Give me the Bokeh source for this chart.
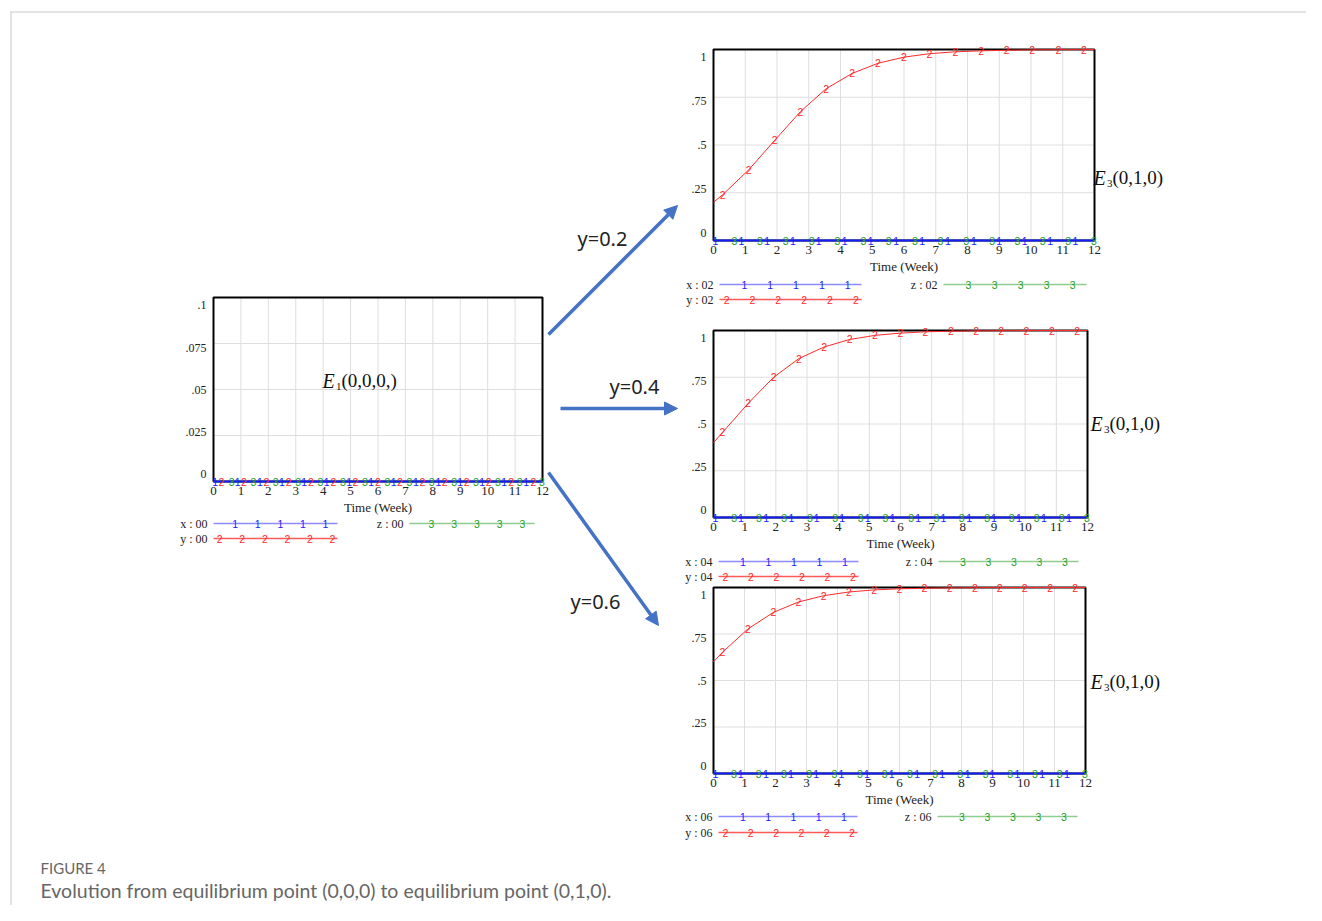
from bokeh.plotting import figure
from bokeh.models import Range1d, ColumnDataSource, Arrow, NormalHead
from bokeh.core.properties import value
from bokeh.embed import file_html
from bokeh.resources import INLINE

# ---------------- data ----------------
weeks = [0, 1, 2, 3, 4, 5, 6, 7, 8, 9, 10, 11, 12]
week_labels = [str(w) for w in weeks]
left_yticks = [0.0, 0.025, 0.05, 0.075, 0.1]
left_ylabels = ["0", ".025", ".05", ".075", ".1"]
right_yticks = [0.0, 0.25, 0.5, 0.75, 1.0]
right_ylabels = ["0", ".25", ".5", ".75", "1"]

# marker times (week) of the three series
t_x = [0.06, 0.88, 1.69, 2.50, 3.31, 4.13, 4.95, 5.75, 6.57, 7.38, 8.20, 9.00, 9.80, 10.60, 11.40]
t_y = [0.29, 1.11, 1.93, 2.74, 3.55, 4.37, 5.18, 6.00, 6.80, 7.62, 8.43, 9.23, 10.04, 10.86, 11.67]
t_z = [0.66, 1.46, 2.27, 3.09, 3.90, 4.72, 5.52, 6.34, 7.15, 7.96, 8.78, 9.57, 10.37, 11.17, 11.98]

# series values: start (week 0), values at the marker times, end (week 12)
x_00 = [0.0] * 17
z_00 = [0.0] * 17
y_00 = [0.0] * 17
x_02 = [0.0] * 17
z_02 = [0.0] * 17
y_02 = [0.20, 0.24, 0.37, 0.525, 0.675, 0.795, 0.875, 0.928, 0.96, 0.978, 0.988,
        0.993, 0.996, 0.998, 0.999, 0.9995, 1.0]
x_04 = [0.0] * 17
z_04 = [0.0] * 17
y_04 = [0.40, 0.455, 0.61, 0.75, 0.85, 0.912, 0.952, 0.974, 0.986, 0.993, 0.996,
        0.998, 0.999, 0.9995, 1.0, 1.0, 1.0]
x_06 = [0.0] * 17
z_06 = [0.0] * 17
y_06 = [0.60, 0.652, 0.777, 0.866, 0.922, 0.956, 0.976, 0.987, 0.993, 0.996, 0.998,
        0.999, 0.9995, 1.0, 1.0, 1.0, 1.0]

scenario_labels = ["y=0.2", "y=0.4", "y=0.6"]
caption_head = "FIGURE 4"
caption_text = "Evolution from equilibrium point (0,0,0) to equilibrium point (0,1,0)."

# ---------------- canvas ----------------
W, H = 1306, 905
SX0, SY0 = 0, 0  # page offset of canvas

p = figure(width=W, height=H, output_backend="svg", toolbar_location=None,
           x_axis_type=None, y_axis_type=None, min_border=0,
           x_range=Range1d(SX0, SX0 + W), y_range=Range1d(SY0 + H, SY0))
p.outline_line_color = None
p.background_fill_color = "white"
p.border_fill_color = "white"

SERIF = value("Liberation Serif")
SANS = value("Liberation Sans")

BLUE, RED, GREEN = "#1a1aff", "#ff2a2a", "#22a022"


def add_ranges(name, X0, X1, Ytop, Ybot, ymax):
    sx = 12.0 / (X1 - X0)
    p.extra_x_ranges[name] = Range1d((SX0 - X0) * sx, (SX0 + W - X0) * sx)
    sy = ymax / (Ybot - Ytop)
    p.extra_y_ranges[name] = Range1d((Ybot - (SY0 + H)) * sy, (Ybot - SY0) * sy)


def panel(name, frame, ymax, yticks, ylabels, xs, ys, zs, leg, tag):
    X0, X1, Ytop, Ybot = frame
    add_ranges(name, X0, X1, Ytop, Ybot, ymax)
    kw = dict(x_range_name=name, y_range_name=name)
    # grid
    p.segment(x0=weeks[1:-1], y0=[0] * 11, x1=weeks[1:-1], y1=[ymax] * 11,
              line_color="#dedede", line_width=1, **kw)
    p.segment(x0=[0] * 3, y0=yticks[1:-1], x1=[12] * 3, y1=yticks[1:-1],
              line_color="#dedede", line_width=1, **kw)
    # frame
    p.quad(left=[0], right=[12], bottom=[0], top=[ymax], fill_color=None,
           line_color="black", line_width=2, **kw)
    # tick labels
    p.text(x=weeks, y=[0] * 13, text=week_labels, y_offset=5, text_align="center",
           text_baseline="top", text_font=SERIF, text_font_size="13px",
           text_color="#222", **kw)
    src = ColumnDataSource(dict(y=yticks, t=ylabels, off=[-8, -4, 0, 4, 7]))
    p.text(x=0, y="y", text="t", y_offset="off", x_offset=-7, source=src,
           text_align="right", text_baseline="middle", text_font=SERIF,
           text_font_size="12px", text_color="#222", **kw)
    p.text(x=[6], y=[0], text=["Time (Week)"], y_offset=18, text_align="center",
           text_baseline="top", text_font=SERIF, text_font_size="13px",
           text_color="#222", **kw)
    # series
    tl_x = [0] + t_x + [12]
    tl_y = [0] + t_y + [12]
    tl_z = [0] + t_z + [12]
    p.line(tl_y, ys, line_color=RED, line_width=1, **kw)
    p.line(tl_z, zs, line_color=GREEN, line_width=1.5, **kw)
    p.line(tl_x, xs, line_color=BLUE, line_width=2, **kw)
    for tt, vv, lab, col in ((t_y, ys[1:-1], "2", RED), (t_z, zs[1:-1], "3", GREEN),
                             (t_x, xs[1:-1], "1", BLUE)):
        p.text(x=tt, y=vv, text=[lab] * len(tt), text_align="center",
               text_baseline="middle", text_font=SANS, text_font_size="10.5px",
               text_color=col, **kw)
    # legend (screen coords)
    lx0, lx1, lz0, lz1, r1, r2 = leg
    f1 = [0.175, 0.357, 0.539, 0.721, 0.903]
    f2 = [0.05, 0.232, 0.414, 0.596, 0.778, 0.96]
    rows = [("x : " + tag, lx0, lx1, r1, "#8c8cff", BLUE, "1", f1),
            ("y : " + tag, lx0, lx1, r2, "#ff5a5a", RED, "2", f2),
            ("z : " + tag, lz0, lz1, r1, "#8fcc8f", GREEN, "3", f1)]
    for lab, a, b, yy, lc, mc, m, fr in rows:
        p.segment(x0=[a], y0=[yy], x1=[b], y1=[yy], line_color=lc, line_width=1.5)
        p.text(x=[a + f * (b - a) for f in fr], y=[yy] * len(fr), text=[m] * len(fr),
               text_align="center", text_baseline="middle", text_font=SANS,
               text_font_size="10.5px", text_color=mc)
        p.text(x=[a - 6], y=[yy], text=[lab], text_align="right",
               text_baseline="middle", text_font=SERIF, text_font_size="12px",
               text_color="#222")


panel("p00", (213, 542, 297, 481), 0.1, left_yticks, left_ylabels,
      x_00, y_00, z_00, (213, 337, 409, 534, 523, 538), "00")
panel("p02", (713, 1094, 49, 240), 1.0, right_yticks, right_ylabels,
      x_02, y_02, z_02, (719, 861, 943, 1086, 284, 299), "02")
panel("p04", (713, 1087, 330, 517), 1.0, right_yticks, right_ylabels,
      x_04, y_04, z_04, (718, 858, 938, 1078, 561, 576), "04")
panel("p06", (713, 1085, 587, 773), 1.0, right_yticks, right_ylabels,
      x_06, y_06, z_06, (718, 857, 937, 1077, 816, 832), "06")


def elabel(x, y, sub, rest):
    p.text(x=[x], y=[y], text=["E"], text_align="left", text_baseline="middle",
           text_font=SERIF, text_font_style="italic", text_font_size="20px",
           text_color="#111")
    p.text(x=[x + 13.5], y=[y + 6], text=[sub], text_align="left", text_baseline="middle",
           text_font=SERIF, text_font_size="11px", text_color="#111")
    p.text(x=[x + 19], y=[y], text=[rest], text_align="left", text_baseline="middle",
           text_font=SERIF, text_font_size="19px", text_color="#111")


elabel(322, 380, "1", "(0,0,0,)")
elabel(1093, 177, "3", "(0,1,0)")
elabel(1090, 423, "3", "(0,1,0)")
elabel(1090, 681, "3", "(0,1,0)")

# arrows
AC = "#4472c4"
for xs_, ys_, xe_, ye_ in ((548, 334, 677, 205), (560, 408, 677, 408), (548, 472, 658, 625)):
    p.add_layout(Arrow(end=NormalHead(size=13, fill_color=AC, line_color=AC),
                       x_start=xs_, y_start=ys_, x_end=xe_, y_end=ye_,
                       line_color=AC, line_width=3.5))

p.text(x=[577, 609, 570], y=[238, 386, 601], text=scenario_labels, text_align="left",
       text_baseline="middle", text_font=value("Noto Sans"), text_font_size="20px",
       text_color="#222")

# page border
p.segment(x0=[10, 10.5], y0=[11.5, 11], x1=[SX0 + W, 10.5], y1=[11.5, SY0 + H],
          line_color="#c8c8c8", line_width=1)

# caption
p.text(x=[40], y=[867], text=[caption_head], text_align="left", text_baseline="middle",
       text_font=value("Lato"), text_font_size="15px", text_color="#666")
p.text(x=[40], y=[890], text=[caption_text], text_align="left", text_baseline="middle",
       text_font=value("Lato"), text_font_size="19.5px", text_color="#666")

open("out.html", "w").write(file_html(p, INLINE))
